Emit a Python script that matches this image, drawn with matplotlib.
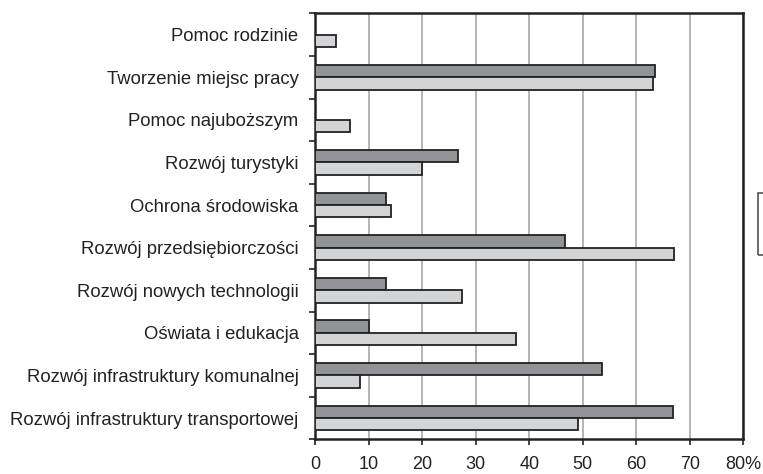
import matplotlib
matplotlib.use("Agg")
import matplotlib.pyplot as plt
from matplotlib.patches import Rectangle
import numpy as np

plt.rcParams['font.family'] = ['Liberation Sans', 'DejaVu Sans']

categories = [
    "Pomoc rodzinie",
    "Tworzenie miejsc pracy",
    "Pomoc najuboższym",
    "Rozwój turystyki",
    "Ochrona środowiska",
    "Rozwój przedsiębiorczości",
    "Rozwój nowych technologii",
    "Oświata i edukacja",
    "Rozwój infrastruktury komunalnej",
    "Rozwój infrastruktury transportowej",
]
series_dark = [0.0, 63.5, 0.0, 26.7, 13.3, 46.6, 13.3, 10.0, 53.5, 66.8]
series_light = [3.9, 63.2, 6.5, 19.9, 14.1, 67.0, 27.5, 37.6, 8.4, 49.1]
xtick_values = [0, 10, 20, 30, 40, 50, 60, 70, 80]
xtick_labels = ["0", "10", "20", "30", "40", "50", "60", "70", "80%"]

fig = plt.figure(figsize=(7.63, 4.74), dpi=100)
ax = fig.add_axes([0.4132, 0.0732, 0.9742 - 0.4132, 0.9719 - 0.0732])

y = np.arange(len(categories))
h = 0.29
ax.barh(y - h / 2, series_dark, height=h, color="#929396", edgecolor="#222222",
        linewidth=1.3, zorder=3)
ax.barh(y + h / 2, series_light, height=h, color="#d3d4d6", edgecolor="#222222",
        linewidth=1.3, zorder=3)

ax.set_xlim(0, 80)
ax.set_ylim(len(categories) - 0.5, -0.5)

ax.set_xticks(xtick_values)
ax.set_xticklabels(xtick_labels, fontsize=13, color="#222222")
ax.tick_params(axis="x", direction="out", length=4, width=1.2, color="#222222", pad=8)

ax.set_yticks(np.arange(len(categories) + 1) - 0.5)
ax.set_yticklabels([])
ax.set_yticks(y, minor=True)
ax.set_yticklabels(categories, minor=True, fontsize=13.3, color="#222222")
ax.tick_params(axis="y", which="major", direction="out", length=4, width=1.2, color="#222222")
ax.tick_params(axis="y", which="minor", length=0, pad=12)

ax.grid(axis="x", color="#a8a8a8", linewidth=1.2, zorder=0)
ax.set_axisbelow(True)
for s in ax.spines.values():
    s.set_linewidth(1.8)
    s.set_color("#222222")

# legend frame (cut off at the right edge in the reference)
fig.patches.append(Rectangle((757.5 / 763, 1 - 255 / 474), 40 / 763, 62 / 474,
                             transform=fig.transFigure, fill=False,
                             edgecolor="#555555", linewidth=1.2))

fig.savefig("out.png", dpi=100)
